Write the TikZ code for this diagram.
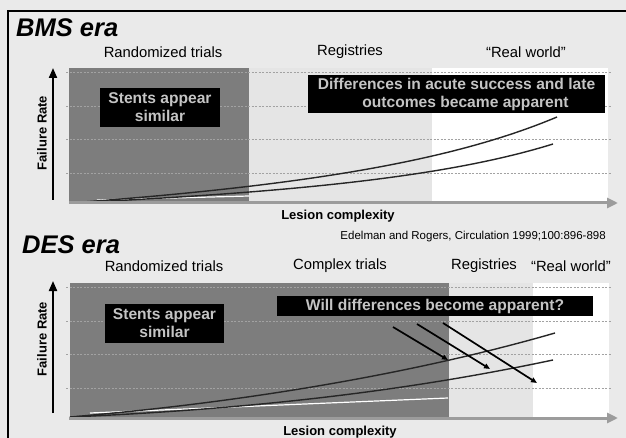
\documentclass[tikz,border=0pt]{standalone}
\usepackage{fontspec}
\setmainfont{Liberation Sans}
\usetikzlibrary{arrows.meta}

\tikzset{
  msgbox/.style={fill=black, text=boxText, align=center, inner sep=0pt,
    font=\bfseries\fontsize{15.6}{18}\selectfont},
  axislabel/.style={font=\bfseries\fontsize{13}{15}\selectfont},
  grid line/.style={draw=gridGray, line width=0.8pt, dash pattern=on 2pt off 1.5pt},
  trend/.style={line width=1.4pt, draw=black!85},
}

\begin{document}
\begin{tikzpicture}[x=1pt,y=-1pt, every node/.style={font=\fontsize{14.8}{17}\selectfont, inner sep=0pt}]
  \definecolor{slBack}{HTML}{EAEAEA}
  \definecolor{trialGray}{HTML}{7D7D7D}
  \definecolor{regGray}{HTML}{E5E5E5}
  \definecolor{boxText}{HTML}{C4C4C4}
  \definecolor{gridGray}{HTML}{A2A2A2}
  \definecolor{axisGray}{HTML}{9C9C9C}
  \useasboundingbox (0,0) rectangle (626,438);
  \fill[slBack] (0,0) rectangle (626,438);
  \draw[line width=1.6pt] (8,438) -- (8,11) -- (626,11);

  % study zones: left/right/colour/top/bottom
  \foreach \xa/\xb/\col/\ya/\yb in {69/249/trialGray/68/203, 249/432/regGray/68/203, 432/608/white/68/203,
                                   70/449/trialGray/283/417, 449/533/regGray/283/417, 533/609/white/283/417}{
    \fill[\col] (\xa,\ya) rectangle (\xb,\yb);
  }
  \foreach \y in {72,106,139,173, 287,321,354,388}{
    \draw[grid line] (66,\y) -- (612,\y);
  }

  % BMS era
  \node[font=\bfseries\itshape\fontsize{25.5}{27}\selectfont, anchor=west] (bmsTitle) at (16,28) {BMS era};
  \node (bmsRand) at (163,52) {Randomized trials};
  \node (bmsReg) at (350,52) {Registries};
  \node (bmsReal) at (526,52) {“Real world”};
  \coordinate (bmsO) at (70,203);
  \coordinate (bmsHi) at (557,117);
  \coordinate (bmsLo) at (553,144);
  \coordinate (bmsWa) at (97,200);
  \coordinate (bmsWb) at (249,196);
  \draw[white, line width=1.2pt] (bmsWa) -- (bmsWb);
  \draw[trend] (bmsO) .. controls (300,186) and (450,162) .. (bmsHi);
  \draw[trend] (bmsO) .. controls (300,192) and (450,176) .. (bmsLo);
  \node[msgbox, minimum width=120, minimum height=39] (bmsSim) at (160,107.5) {Stents appear\\similar};
  \node[msgbox, minimum width=297, minimum height=38] (bmsDiff) at (456.5,94)
    {Differences in acute success and late\\\hspace*{18pt}outcomes became apparent};
  \coordinate (bmsYa) at (53,200);
  \coordinate (bmsYb) at (53,68);
  \coordinate (bmsXb) at (618,203);
  \draw[line width=2pt, -{Triangle[length=10pt,width=8pt]}] (bmsYa) -- (bmsYb);
  \draw[axisGray, line width=3pt, -{Triangle[length=11pt,width=10pt]}] (69,203) -- (bmsXb);
  \node[axislabel, rotate=90] (bmsFail) at (42,133) {Failure Rate};
  \node[axislabel] (bmsLes) at (338,216) {Lesion complexity};
  \node[font=\fontsize{11.5}{13}\selectfont, anchor=east] (cite) at (606,237)
    {Edelman and Rogers, Circulation 1999;100:896-898};

  % DES era
  \node[font=\bfseries\itshape\fontsize{25.5}{27}\selectfont, anchor=west] (desTitle) at (22,245) {DES era};
  \node (desRand) at (164,266) {Randomized trials};
  \node (desCplx) at (340,266) {Complex trials};
  \node (desReg) at (484,266) {Registries};
  \node (desReal) at (571,266) {“Real world”};
  \coordinate (desO) at (70,417);
  \coordinate (desHi) at (555,333);
  \coordinate (desLo) at (553,360);
  \coordinate (desWa) at (90,413);
  \coordinate (desWb) at (448,398);
  \draw[white, line width=1.2pt] (desWa) -- (desWb);
  \draw[trend] (desO) .. controls (250,402) and (420,372) .. (desHi);
  \draw[trend] (desO) .. controls (280,408) and (430,386) .. (desLo);
  \node[msgbox, minimum width=119, minimum height=39] (desSim) at (164.5,323.5) {Stents appear\\similar};
  \node[msgbox, minimum width=316, minimum height=20] (desWill) at (435,306) {Will differences become apparent?};
  \foreach \xa/\ya/\xb/\yb [count=\k] in {393/327/448/360, 417/324/490/369, 443/323/537/383}{
    \coordinate (wa\k) at (\xa,\ya);
    \coordinate (wb\k) at (\xb,\yb);
    \draw[line width=1.7pt, -{Triangle[length=6pt,width=5pt]}] (wa\k) -- (wb\k);
  }
  \coordinate (desYa) at (53,413);
  \coordinate (desYb) at (53,281);
  \coordinate (desXb) at (618,418);
  \draw[line width=2pt, -{Triangle[length=10pt,width=8pt]}] (desYa) -- (desYb);
  \draw[axisGray, line width=3pt, -{Triangle[length=11pt,width=10pt]}] (69,418) -- (desXb);
  \node[axislabel, rotate=90] (desFail) at (42,339) {Failure Rate};
  \node[axislabel] (desLes) at (340,432) {Lesion complexity};
\end{tikzpicture}
\end{document}
